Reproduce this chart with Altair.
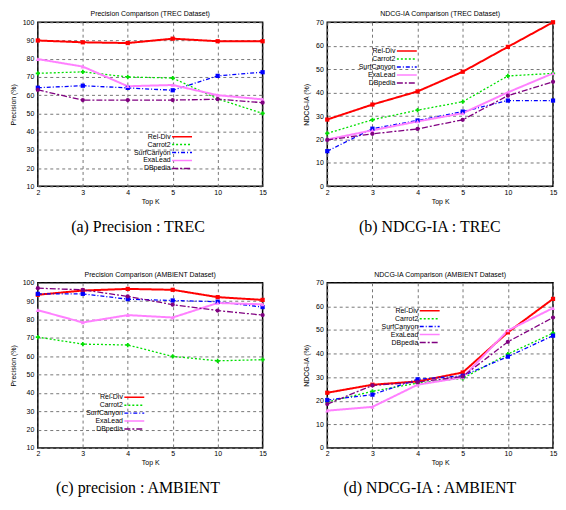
import altair as alt
import pandas as pd

k_values = ["2", "3", "4", "5", "10", "15"]
series = ["Rel-Div", "Carrot2", "SurfCanyon", "ExaLead", "DBpedia"]

prec_trec = {
    "Rel-Div": [90, 89, 88.6, 91, 89.6, 89.6],
    "Carrot2": [72, 72.8, 70, 69.4, 58, 50],
    "SurfCanyon": [64.1, 65.2, 64, 62.7, 70.6, 72.6],
    "ExaLead": [79.8, 75.7, 64.9, 65.6, 60, 57.7],
    "DBpedia": [62.9, 57.3, 57.3, 57.3, 57.8, 55.9],
}
ndcg_trec = {
    "Rel-Div": [28.5, 34.9, 40.5, 48.9, 59.5, 70],
    "Carrot2": [22.6, 28.4, 32.5, 36.1, 47.1, 48.2],
    "SurfCanyon": [15, 24.6, 28.1, 31.9, 36.6, 36.6],
    "ExaLead": [20, 23.9, 27.7, 31.2, 40.1, 48.2],
    "DBpedia": [19.8, 22.4, 24.5, 28.4, 38.7, 44.6],
}
prec_amb = {
    "Rel-Div": [93.5, 95.8, 96.7, 96.2, 92.2, 90.7],
    "Carrot2": [70.4, 66.6, 66.1, 59.9, 57.5, 58.1],
    "SurfCanyon": [94, 94, 91.1, 90.4, 89.7, 86.8],
    "ExaLead": [85.1, 78.4, 82.4, 81.1, 89, 88.3],
    "DBpedia": [97.1, 96.2, 92.6, 88.1, 84.9, 82.4],
}
ndcg_amb = {
    "Rel-Div": [23.4, 26.8, 28.2, 32, 49, 63.2],
    "Carrot2": [19.5, 24, 27.5, 29.5, 39.8, 48.7],
    "SurfCanyon": [20.3, 22.6, 29.1, 30.6, 38.7, 47.6],
    "ExaLead": [15.8, 17.4, 26.8, 29.9, 49.8, 59.3],
    "DBpedia": [18.6, 26.5, 27.9, 30.3, 45, 55.3],
}

colors = ["#ff0000", "#00e000", "#0000ff", "#ff80ff", "#800080"]
dashes = [[1, 0], [2, 2], [4, 2, 1, 2], [1, 0], [6, 2, 2, 2]]
shapes = ["square", "cross", "square", "triangle-up", "circle"]

FONT = "Liberation Sans"
SERIF = "Liberation Serif"

shape_value = {
    "condition": [
        {"test": f"datum.Series === '{s}'", "value": sh}
        for s, sh in zip(series, shapes)
    ],
    "value": "circle",
}


def panel(vals, title, ydom, ytitle, lx, ly, caption, w, h):
    rows = []
    for s in series:
        for k, v in zip(k_values, vals[s]):
            rows.append({"K": k, "Series": s, "Value": v})
    df = pd.DataFrame(rows)
    leg = alt.Legend(
        orient="none", legendX=lx, legendY=ly, title=None,
        symbolType="M-4,0H4", symbolSize=25, symbolStrokeWidth=1.5,
        labelAlign="right", labelOffset={"expr": "-15"}, labelFontSize=7, labelFont=FONT,
        labelColor="black", rowPadding=0, padding=0,
    )
    x = alt.X("K:O", sort=k_values, scale=alt.Scale(padding=0),
              axis=alt.Axis(title="Top K", labelAngle=0, grid=True,
                            labelPadding=2, titlePadding=2))
    y = alt.Y("Value:Q", scale=alt.Scale(domain=ydom, nice=False, zero=False),
              axis=alt.Axis(title=ytitle, values=list(range(ydom[0], ydom[1] + 1, 10)),
                            labelPadding=4, titlePadding=6))
    color = alt.Color("Series:N", sort=series,
                      scale=alt.Scale(domain=series, range=colors), legend=leg)
    lines = alt.Chart(df).mark_line().encode(
        x=x, y=y, color=color,
        strokeDash=alt.StrokeDash("Series:N", sort=series,
                                  scale=alt.Scale(domain=series, range=dashes), legend=leg),
        strokeWidth=alt.condition(
            alt.FieldOneOfPredicate(field="Series", oneOf=["Rel-Div", "ExaLead"]),
            alt.value(2), alt.value(1.3)),
        detail="Series:N",
    )
    points = alt.Chart(df).mark_point(filled=True, size=18, opacity=1).encode(
        x=x, y=y,
        color=alt.Color("Series:N", sort=series,
                        scale=alt.Scale(domain=series, range=colors), legend=None),
        shape=shape_value,
    )
    ch = alt.layer(lines, points).properties(
        width=w, height=h, title=alt.TitleParams(title)
    )
    return alt.vconcat(
        ch,
        title=alt.TitleParams(caption, orient="bottom", font=SERIF, fontSize=16,
                              anchor="middle", offset=14, color="black"),
    ).resolve_scale(color="independent", strokeDash="independent")


pa = panel(prec_trec, "Precision Comparison (TREC Dataset)", [10, 100], "Precision (%)",
           141.5, 111.5, "(a) Precision : TREC", 226, 165)
pb = panel(ndcg_trec, "NDCG-IA Comparison (TREC Dataset)", [0, 70], "NDCG-IA (%)",
           76.5, 25.5, "(b) NDCG-IA : TREC", 227, 165)
pc = panel(prec_amb, "Precision Comparison (AMBIENT Dataset)", [10, 100], "Precision (%)",
           93.5, 111.5, "(c) precision : AMBIENT", 226, 166)
pd_ = panel(ndcg_amb, "NDCG-IA Comparison (AMBIENT Dataset)", [0, 70], "NDCG-IA (%)",
            99.5, 24.5, "(d) NDCG-IA : AMBIENT", 227, 166)

res = dict(color="independent", strokeDash="independent")
row1 = alt.hconcat(pa, pb, spacing=34).resolve_scale(**res)
row2 = alt.hconcat(pc, pd_, spacing=34).resolve_scale(**res)

chart = alt.vconcat(row1, row2, spacing=35).resolve_scale(**res).properties(
    padding={"left": 0, "top": 0, "right": 0, "bottom": 0}
).configure_view(
    stroke="black", strokeWidth=1.5
).configure_axis(
    labelFont=FONT, titleFont=FONT, labelFontSize=7, titleFontSize=7,
    titleFontWeight="normal", labelColor="black", titleColor="black",
    gridColor="#777777", gridDash=[3, 3], gridWidth=1, gridOpacity=1,
    domain=False, ticks=False,
).configure_title(
    font=FONT, fontSize=7, fontWeight="normal", color="black", offset=1
)

chart.save("out.html", embed_options={"renderer": "svg", "actions": False})
